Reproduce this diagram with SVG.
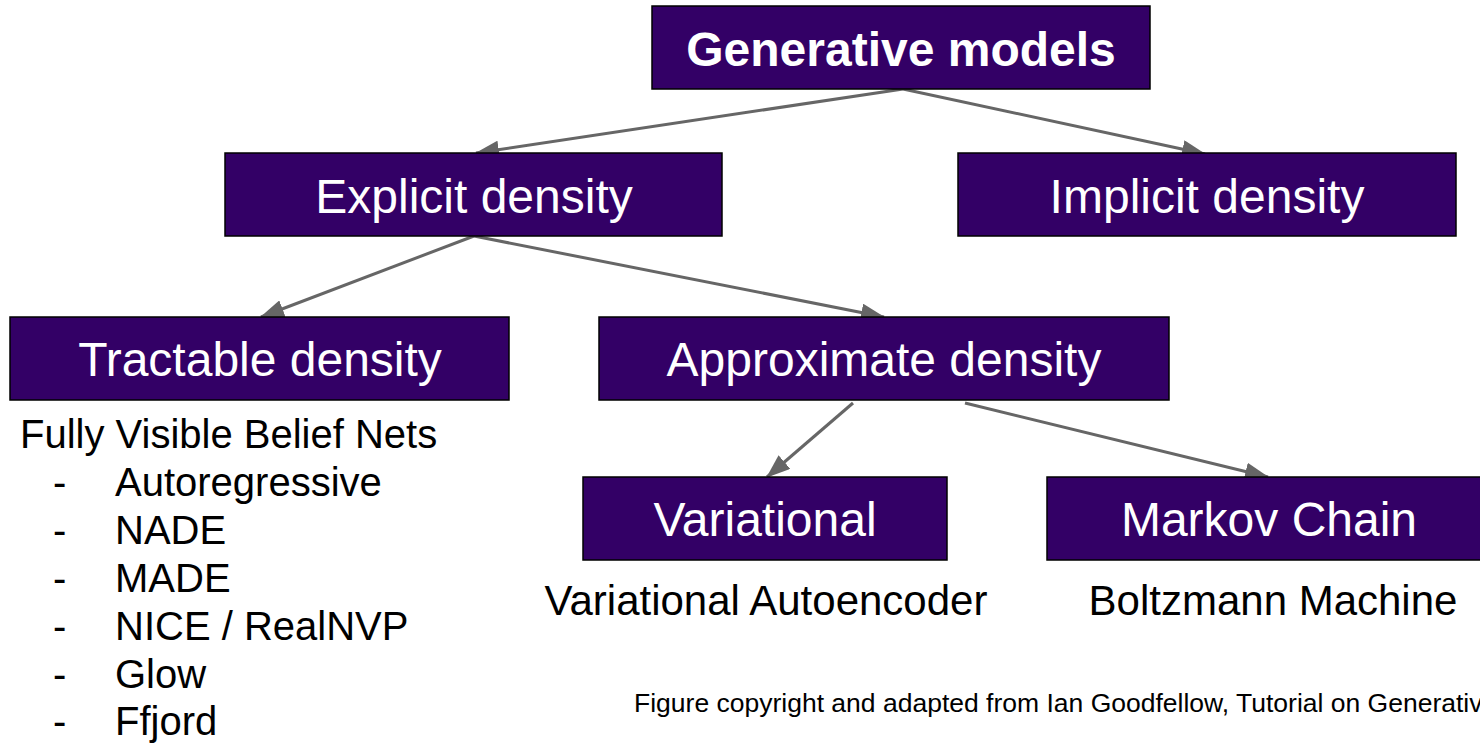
<svg xmlns="http://www.w3.org/2000/svg" width="1480" height="743" viewBox="0 0 1480 743">
  <defs>
    <style>
      .box { fill: #330066; stroke: #000000; stroke-width: 1.5; }
      .lbl { font-family: "Liberation Sans", Arial, sans-serif; font-size: 48px; fill: #ffffff; text-anchor: middle; }
      .bold { font-weight: bold; }
      .note { font-family: "Liberation Sans", Arial, sans-serif; font-size: 42px; fill: #000000; }
      .list { font-family: "Liberation Sans", Arial, sans-serif; font-size: 40px; fill: #000000; }
      .foot { font-family: "Liberation Sans", Arial, sans-serif; font-size: 26.5px; fill: #000000; }
      .edge { stroke: #666666; stroke-width: 3; fill: none; marker-end: url(#arrow); }
    </style>
    <marker id="arrow" markerUnits="userSpaceOnUse" markerWidth="24" markerHeight="18" viewBox="0 0 24 18" refX="23" refY="9" orient="auto">
      <path d="M0,0 L24,9 L0,18 z" fill="#666666"/>
    </marker>
  </defs>

  <rect width="1480" height="743" fill="#ffffff"/>

  <!-- connectors -->
  <g id="edges">
    <line class="edge" x1="903" y1="89" x2="476" y2="153"/>
    <line class="edge" x1="903" y1="89" x2="1205" y2="154"/>
    <line class="edge" x1="474" y1="236" x2="261" y2="317"/>
    <line class="edge" x1="474" y1="236" x2="884" y2="317"/>
    <line class="edge" x1="853" y1="403" x2="767" y2="477"/>
    <line class="edge" x1="965" y1="403" x2="1268" y2="477"/>
  </g>

  <g id="generative-models">
    <rect class="box" x="652" y="6" width="498" height="83"/>
    <text class="lbl bold" x="901" y="66">Generative models</text>
  </g>

  <g id="explicit-density">
    <rect class="box" x="225" y="153" width="497" height="83"/>
    <text class="lbl" x="474" y="213">Explicit density</text>
  </g>

  <g id="implicit-density">
    <rect class="box" x="958" y="153" width="498" height="83"/>
    <text class="lbl" x="1207" y="213">Implicit density</text>
  </g>

  <g id="tractable-density">
    <rect class="box" x="10" y="317" width="499" height="83"/>
    <text class="lbl" x="260" y="376">Tractable density</text>
    <text class="list" x="20" y="448">Fully Visible Belief Nets</text>
    <g class="list">
      <text x="53" y="496">-</text><text x="115" y="496">Autoregressive</text>
      <text x="53" y="544">-</text><text x="115" y="544">NADE</text>
      <text x="53" y="592">-</text><text x="115" y="592">MADE</text>
      <text x="53" y="640">-</text><text x="115" y="640">NICE / RealNVP</text>
      <text x="53" y="688">-</text><text x="115" y="688">Glow</text>
      <text x="53" y="735">-</text><text x="115" y="735">Ffjord</text>
    </g>
  </g>

  <g id="approximate-density">
    <rect class="box" x="599" y="317" width="570" height="83"/>
    <text class="lbl" x="884" y="376">Approximate density</text>
  </g>

  <g id="variational">
    <rect class="box" x="583" y="477" width="364" height="83"/>
    <text class="lbl" x="765" y="536">Variational</text>
    <text class="note" x="766" y="615" text-anchor="middle">Variational Autoencoder</text>
  </g>

  <g id="markov-chain">
    <rect class="box" x="1047" y="477" width="444" height="83"/>
    <text class="lbl" x="1269" y="536">Markov Chain</text>
    <text class="note" x="1273" y="615" text-anchor="middle">Boltzmann Machine</text>
  </g>

  <text class="foot" x="634" y="712">Figure copyright and adapted from Ian Goodfellow, Tutorial on Generative</text>
</svg>
